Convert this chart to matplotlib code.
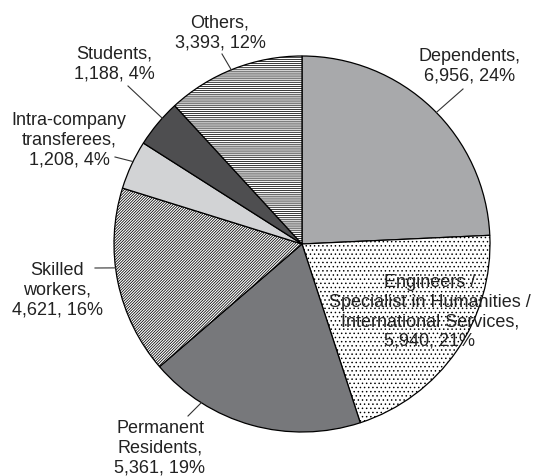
import numpy as np
import matplotlib
matplotlib.use("Agg")
import matplotlib.pyplot as plt

plt.rcParams['font.family'] = ['Liberation Sans', 'DejaVu Sans']
plt.rcParams['hatch.linewidth'] = 0.55

names = ["Dependents", "Engineers /\nSpecialist in Humanities /\nInternational Services",
         "Permanent\nResidents", "Skilled\nworkers", "Intra-company\ntransferees",
         "Students", "Others"]
values = [6956, 5940, 5361, 4621, 1208, 1188, 3393]
pcts = [24, 21, 19, 16, 4, 4, 12]
colors = ["#a8a9ab", "white", "#77787b", "white", "#d2d3d5", "#4e4e50", "white"]
hatches = [None, "....", None, "////////////", None, None, "--------"]

W, H = 541, 477
cx, cy, r = 302, H - 245, 188

fig = plt.figure(figsize=(W / 100, H / 100), dpi=100)
ax = fig.add_axes([0, 0, 1, 1])

wedges, _ = ax.pie(values, colors=colors, startangle=90, counterclock=False,
                   center=(cx, cy), radius=r,
                   wedgeprops=dict(edgecolor="black", linewidth=0.9))
for w, h in zip(wedges, hatches):
    if h:
        w.set_hatch(h)

ax.set_xlim(0, W)
ax.set_ylim(0, H)
ax.set_aspect("equal")
ax.axis("off")

def label(i):
    return "%s,\n%s, %d%%" % (names[i], format(values[i], ","), pcts[i])

# label positions in picture pixels (x, y from top), leader line start and angle on rim
layout = {
    0: ((470, 66), (463, 90), 44.4),
    1: ((430, 312), None, None),
    2: ((160, 448), (188, 417), 237.6),
    3: ((57, 290), (95, 269), 187.3),
    4: ((69, 140), (115, 158), 154.0),
    5: ((114, 64), (128, 87), 138.0),
    6: ((220, 33), (222, 55), 112.1),
}

for i, (txt, start, ang) in layout.items():
    ax.text(txt[0], H - txt[1], label(i), ha="center", va="center",
            fontsize=13, color="#222222", linespacing=1.2)
    if start is not None:
        a = np.deg2rad(ang)
        ex, ey = cx + r * np.cos(a), cy + r * np.sin(a)
        ax.plot([start[0], ex], [H - start[1], ey], color="#333333", lw=0.8)

fig.savefig("out.png", dpi=100)
